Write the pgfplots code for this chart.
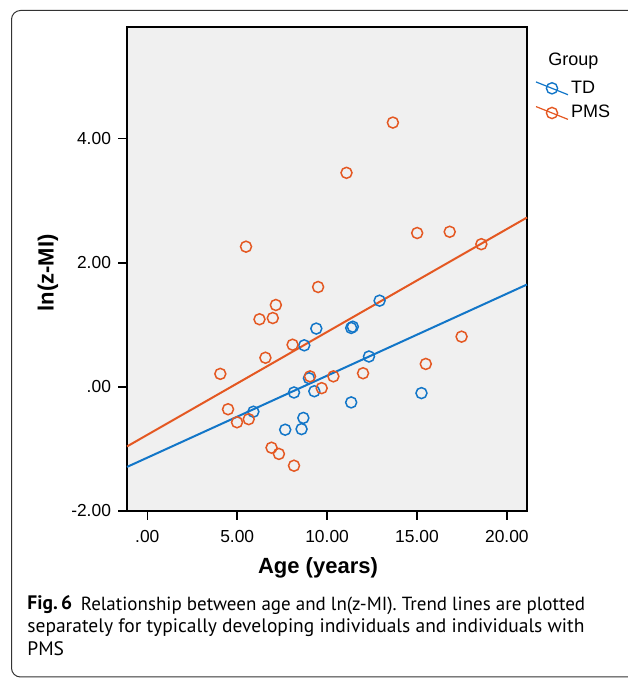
\documentclass[border=0pt]{standalone}
\usepackage{fontspec}
\setmainfont{Liberation Sans}
\newfontfamily\capfont{PT Sans}
\usepackage{pgfplots}
\pgfplotsset{compat=1.18}

\definecolor{tdblue}{RGB}{18,118,200}
\definecolor{pmsorange}{RGB}{228,88,34}
\definecolor{plotbg}{RGB}{240,240,240}

\begin{document}
\begin{tikzpicture}
% 1 px of the reference = 0.5pt
\useasboundingbox (0,0) rectangle (313.5pt,339pt);

% frame of the figure
\draw[line width=0.5pt, black!80, rounded corners=4.5pt]
  (330pt,333.75pt) -- (5.75pt,333.75pt) -- (5.75pt,0.5pt) -- (330pt,0.5pt);

\begin{axis}[
  at={(63.5pt,83.5pt)}, anchor=south west,
  scale only axis,
  width=200pt, height=242pt,
  xmin=-1.13, xmax=21.12,
  ymin=-2, ymax=5.8,
  axis background/.style={fill=plotbg},
  axis line style={line width=0.8pt, black},
  tick style={line width=0.8pt, black},
  tick align=outside,
  major tick length=4.5pt,
  xtick={0,5,10,15,20},
  xticklabels={.00,5.00,10.00,15.00,20.00},
  ytick={-2,0,2,4},
  yticklabels={-2.00,.00,2.00,4.00},
  xtick pos=bottom, ytick pos=left,
  ticklabel style={font=\fontsize{8.7}{10}\selectfont},
  xticklabel style={yshift=-1.5pt},
  xlabel={Age (years)},
  ylabel={ln(z-MI)},
  label style={font=\fontsize{11}{13}\selectfont\bfseries},
  xlabel style={at={(axis description cs:0.4775,-0.118)}, anchor=center},
  ylabel style={at={(axis description cs:-0.1975,0.492)}, anchor=center},
  clip=false,
  legend style={draw=none, fill=none, at={(rel axis cs:1.02,0.895)}, anchor=north west,
    font=\fontsize{9}{11}\selectfont, row sep=2.2pt, inner sep=0pt,
    nodes={inner sep=1.2pt}},
  legend cell align=left,
]
% TD
\addplot[only marks, mark=o, mark size=2.75pt, tdblue, mark options={line width=0.75pt},
  legend image code/.code={
    \draw[tdblue, line width=0.6pt] (0pt,3.2pt) -- (16pt,-3.2pt);
    \draw[tdblue, line width=0.7pt] (8pt,0pt) circle[radius=2.8pt];}]
  table {
  9.40   0.94
  11.34  0.95
  11.43  0.97
  12.92  1.39
  12.33  0.49
  8.73   0.67
  8.99   0.14
  8.16  -0.09
  9.29  -0.07
  5.90  -0.40
  8.68  -0.50
  7.67  -0.69
  8.58  -0.68
  11.34 -0.25
  15.25 -0.10
};
\addlegendentry{TD}

% PMS
\addplot[only marks, mark=o, mark size=2.75pt, pmsorange, mark options={line width=0.75pt},
  legend image code/.code={
    \draw[pmsorange, line width=0.6pt] (0pt,3.2pt) -- (16pt,-3.2pt);
    \draw[pmsorange, line width=0.7pt] (8pt,0pt) circle[radius=2.8pt];}]
  table {
  13.66  4.26
  11.08  3.45
  5.49   2.26
  15.01  2.48
  16.82  2.50
  18.58  2.30
  9.50   1.61
  7.15   1.32
  6.24   1.09
  6.98   1.11
  8.08   0.68
  6.57   0.47
  4.06   0.21
  9.05   0.17
  9.70  -0.02
  4.49  -0.36
  4.99  -0.57
  5.64  -0.52
  6.91  -0.98
  7.32  -1.08
  8.16  -1.27
  17.48  0.81
  15.49  0.37
  12.00  0.22
  10.35  0.17
};
\addlegendentry{PMS}

% trend lines
\addplot[tdblue, line width=1pt, forget plot] coordinates {(-1.13,-1.29) (21.12,1.65)};
\addplot[pmsorange, line width=1pt, forget plot] coordinates {(-1.13,-0.96) (21.12,2.73)};
\end{axis}

\node[anchor=west, font=\fontsize{9}{11}\selectfont, inner sep=0pt] at (274pt,308.5pt) {Group};

% caption
\begin{scope}[every node/.style={anchor=base west, inner sep=0pt, font=\capfont\fontsize{9.75}{12}\selectfont}]
\node at (13.5pt,34pt) {\textbf{Fig.\,6}\hspace{0.45em}{\fontsize{9.5}{12}\selectfont Relationship between age and ln(z-MI). Trend lines are plotted}};
\node at (13.5pt,22.5pt) {separately for typically developing individuals and individuals with};
\node at (13.5pt,11pt) {PMS};
\end{scope}
\end{tikzpicture}
\end{document}
